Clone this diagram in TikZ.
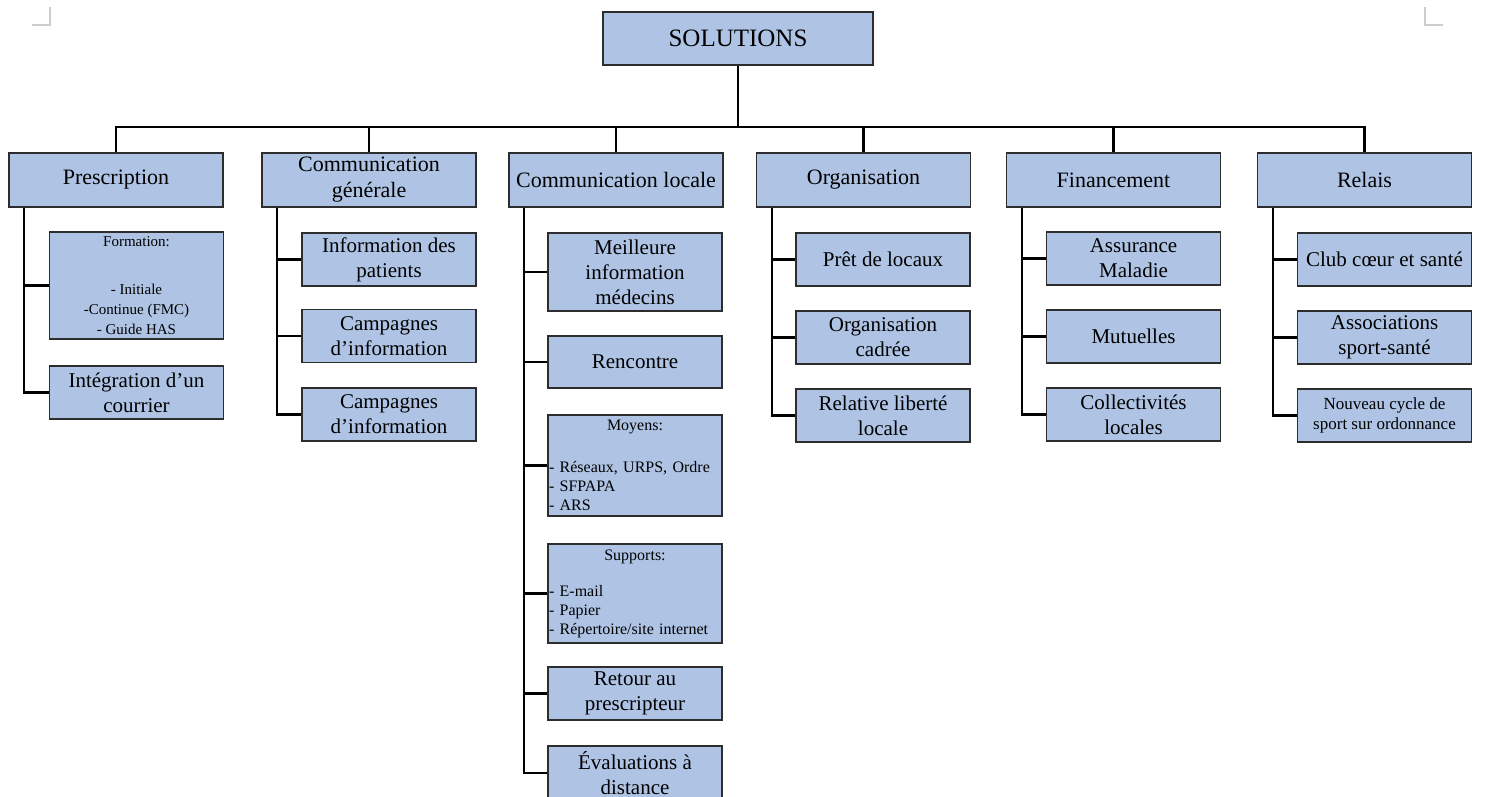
\documentclass[tikz,border=0pt]{standalone}
\usepackage{fontspec}
\setmainfont{Liberation Serif}
\definecolor{boxfill}{RGB}{175,196,229}
\definecolor{boxline}{RGB}{45,45,45}
\definecolor{cornergray}{RGB}{205,205,205}
\begin{document}
\begin{tikzpicture}[x=1pt,y=-1pt,
  box/.style={draw=boxline, line width=1.3pt, fill=boxfill, inner sep=1pt, align=center, text=black},
  rootbox/.style={box, minimum width=270pt, minimum height=53pt, font=\fontsize{25}{30}\selectfont},
  headbox/.style={box, minimum width=214pt, minimum height=54pt, font=\fontsize{22}{26}\selectfont},
  leafbox/.style={box, minimum width=174pt, minimum height=53pt, font=\fontsize{21}{25}\selectfont},
  listbox/.style={box, text width=172pt, align=left, font=\fontsize{16}{19}\selectfont},
  link/.style={draw=black, line width=2.2pt},
  cornerline/.style={draw=cornergray, line width=1.5pt}
]
\useasboundingbox (0,0) rectangle (1485,796);

% page corner marks
\draw[cornerline] (32,25) -- (50,25) -- (50,7);
\draw[cornerline] (1443,25) -- (1425,25) -- (1425,7);

% root
\node[rootbox] (root) at (738,38.5) {SOLUTIONS};

% level 2
\node[headbox] (pre) at (116,180) {Prescription};
\node[headbox] (cg)  at (369,180) {Communication\\générale};
\node[headbox] (cl)  at (616,180) {Communication locale};
\node[headbox] (org) at (863.5,180) {Organisation};
\node[headbox] (fin) at (1113.5,180) {Financement};
\node[headbox] (rel) at (1364.5,180) {Relais};

% Prescription
\node[box, minimum width=174pt, minimum height=107pt, font=\fontsize{15}{20}\selectfont] (pf1) at (136.5,285.5)
  {Formation:\\[28pt]- Initiale\\-Continue (FMC)\\- Guide HAS};
\node[leafbox] (pf2) at (136.5,392.5) {Intégration d’un\\courrier};

% Communication generale
\node[leafbox] (cg1) at (389,259.5) {Information des\\patients};
\node[leafbox] (cg2) at (389,336) {Campagnes\\d’information};
\node[leafbox] (cg3) at (389,414.5) {Campagnes\\d’information};

% Communication locale
\node[leafbox, minimum height=78pt] (cl1) at (635,272) {Meilleure\\information\\médecins};
\node[leafbox, minimum height=52pt] (cl2) at (635,362) {Rencontre};
\node[listbox, minimum height=101pt] (cl3) at (635,465.5)
  {\makebox[172pt]{Moyens:}\\[23pt]- Réseaux, URPS, Ordre\\- SFPAPA\\- ARS};
\node[listbox, minimum height=99pt] (cl4) at (635,593.5)
  {\makebox[172pt]{Supports:}\\[17pt]- E-mail\\- Papier\\- Répertoire/site internet};
\node[leafbox] (cl5) at (635,693.5) {Retour au\\prescripteur};
\node[leafbox, minimum height=54pt] (cl6) at (635,773) {Évaluations à\\distance};

% Organisation
\node[leafbox] (or1) at (883,259.5) {Prêt de locaux};
\node[leafbox] (or2) at (883,337.5) {Organisation\\cadrée};
\node[leafbox] (or3) at (883,415.5) {Relative liberté\\locale};

% Financement
\node[leafbox] (fi1) at (1133.5,258.5) {Assurance\\Maladie};
\node[leafbox] (fi2) at (1133.5,336.5) {Mutuelles};
\node[leafbox] (fi3) at (1133.5,414.5) {Collectivités\\locales};

% Relais
\node[leafbox] (re1) at (1384.5,259.5) {Club cœur et santé};
\node[leafbox] (re2) at (1384.5,337.5) {Associations\\sport-santé};
\node[leafbox, font=\fontsize{17}{20}\selectfont] (re3) at (1384.5,415.5) {Nouveau cycle de\\sport sur ordonnance};

% root to level 2
\coordinate (bus) at (738,127);
\foreach \h in {pre,cg,cl,org,fin,rel}
  \draw[link] (\h.north) -- (\h.north |- bus) -| (root.south);

% level 2 to leaves
\foreach \p/\c in {pre/pf1,pre/pf2,cg/cg1,cg/cg2,cg/cg3,cl/cl1,cl/cl2,cl/cl3,cl/cl4,cl/cl5,cl/cl6,org/or1,org/or2,org/or3,fin/fi1,fin/fi2,fin/fi3,rel/re1,rel/re2,rel/re3}
  \draw[link] ([xshift=16pt]\p.south west) |- (\c.west);
\end{tikzpicture}
\end{document}
